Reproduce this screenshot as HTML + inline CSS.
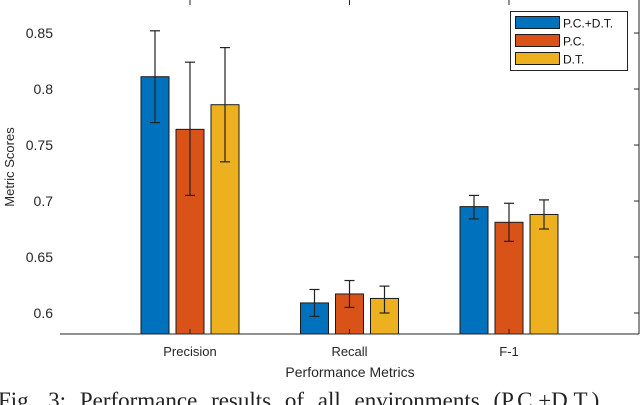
<!DOCTYPE html>
<html><head><meta charset="utf-8"><style>
html,body{margin:0;padding:0;background:#fff;width:640px;height:405px;overflow:hidden}
svg{display:block;font-family:"Liberation Sans",Arial,sans-serif}
</style></head><body>
<svg id="chart" width="640" height="405">
<text x="-2" y="408" font-family="Liberation Serif,serif" font-size="23" fill="#222" word-spacing="8" style="word-spacing:8px">Fig. 3:  Performance results of all environments (P.C.+D.T.)</text>
</svg>
<script>
const categories=["Precision","Recall","F-1"];
const seriesNames=["P.C.+D.T.","P.C.","D.T."];
const seriesColors=["#0072BD","#D95319","#EDB120"];
const valuesPCDT=[0.811,0.609,0.695];
const valuesPC=[0.764,0.617,0.681];
const valuesDT=[0.786,0.613,0.688];
const lowPCDT=[0.770,0.597,0.684];
const highPCDT=[0.852,0.621,0.705];
const lowPC=[0.705,0.605,0.664];
const highPC=[0.824,0.629,0.698];
const lowDT=[0.735,0.600,0.675];
const highDT=[0.837,0.624,0.701];
const yTicks=[0.6,0.65,0.7,0.75,0.8,0.85];
const yTickLabels=["0.6","0.65","0.7","0.75","0.8","0.85"];

const NS="http://www.w3.org/2000/svg";
const svg=document.getElementById('chart');
const L=60,R=639,B=334,yMin=0.58125,yMax=0.8795;
const y=v=>B-(v-yMin)/(yMax-yMin)*B;
const xc=i=>190+i*159.5;
function mk(t,a,parent){const e=document.createElementNS(NS,t);for(const k in a)e.setAttribute(k,a[k]);(parent||svg).appendChild(e);return e;}
const series=[[valuesPCDT,lowPCDT,highPCDT],[valuesPC,lowPC,highPC],[valuesDT,lowDT,highDT]];
const bw=28,off=35;
series.forEach((s,si)=>{
  categories.forEach((c,ci)=>{
    const cx=xc(ci)+(si-1)*off;
    const r=mk('rect',{x:cx-bw/2,y:y(s[0][ci]),width:bw,height:B-y(s[0][ci]),fill:seriesColors[si],stroke:'#1a1a1a','stroke-width':1});
    
    
    const g=mk('g',{stroke:'#222','stroke-width':1.2});
    
    
    mk('line',{x1:cx,x2:cx,y1:y(s[1][ci]),y2:y(s[2][ci])},g);
    mk('line',{x1:cx-5,x2:cx+5,y1:y(s[1][ci]),y2:y(s[1][ci])},g);
    mk('line',{x1:cx-5,x2:cx+5,y1:y(s[2][ci]),y2:y(s[2][ci])},g);
  });
});
const ax=mk('g',{stroke:'#262626','stroke-width':1});


mk('line',{x1:L,x2:R,y1:B,y2:B},ax);
mk('line',{x1:R,x2:R,y1:0,y2:B},ax);
yTicks.forEach((t,i)=>{
  mk('line',{x1:R-5,x2:R,y1:y(t),y2:y(t)},ax);
  const tx=mk('text',{x:53,y:y(t)+5,'text-anchor':'end','font-size':14,fill:'#262626'});
  tx.textContent=yTickLabels[i];
  
  
});
categories.forEach((c,ci)=>{
  mk('line',{x1:xc(ci),x2:xc(ci),y1:0,y2:5},ax);
  mk('line',{x1:xc(ci),x2:xc(ci),y1:B-5,y2:B},ax);
  const tx=mk('text',{x:xc(ci),y:356,'text-anchor':'middle','font-size':13,fill:'#262626'});
  tx.textContent=c;
  
  
});
const xt=mk('text',{x:350,y:377,'text-anchor':'middle','font-size':14,fill:'#262626'});
xt.textContent='Performance Metrics';


const yt=mk('text',{x:0,y:0,transform:'translate(14,167) rotate(-90)','text-anchor':'middle','font-size':13,fill:'#262626'});
yt.textContent='Metric Scores';


const lg=mk('g',{});


mk('rect',{x:510.5,y:11.5,width:117,height:59,fill:'#fff',stroke:'#262626'},lg);
seriesNames.forEach((n,i)=>{
  const e=mk('g',{},lg);
  
  
  mk('rect',{x:515.5,y:16.5+i*18,width:44,height:12,fill:seriesColors[i],stroke:'#1a1a1a'},e);
  const t=mk('text',{x:563,y:27.5+i*18,'font-size':12,fill:'#111'},e);
  t.textContent=n;
});
</script>
</body></html>
